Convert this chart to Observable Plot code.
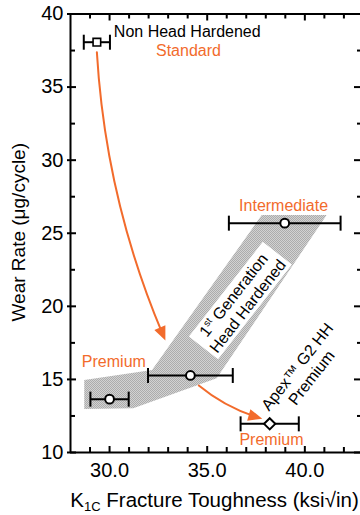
<!DOCTYPE html>
<html>
<head>
<meta charset="utf-8">
<script src="https://cdn.jsdelivr.net/npm/d3@7"></script>
<script src="https://cdn.jsdelivr.net/npm/@observablehq/plot@0.6"></script>
<style>html,body{margin:0;padding:0;background:#fff;overflow:hidden}</style>
</head>
<body>
<div id="chart"></div>
<script>
// ---------- data ----------
const groups = ["Non Head Hardened", "Premium", "1st Generation HH", "Intermediate", "Apex G2 HH Premium"];
const toughness = [29.35, 30.0, 34.14, 38.97, 38.2];
const toughnessErr = [0.67, 0.98, 2.17, 2.86, 1.49];
const wearRate = [38.07, 13.65, 15.27, 25.69, 11.96];
const markerType = ["square", "circle", "circle", "circle", "diamond"];

// shaded "1st Generation Head Hardened" band (upper and lower edges)
const bandUpperX = [28.73, 32.2, 37.82, 41.14];
const bandUpperY = [14.93, 15.61, 26.21, 26.21];
const bandLowerX = [28.73, 31.24, 35.51, 41.14];
const bandLowerY = [12.94, 12.99, 15.04, 26.21];

// ticks
const majorX = [30, 35, 40];
const minorX = [29, 31, 32, 33, 34, 36, 37, 38, 39, 41, 42];
const majorY = [10, 15, 20, 25, 30, 35, 40];
const minorY = [12.5, 17.5, 22.5, 27.5, 32.5, 37.5];

// annotations
const blackLabels = [{text: "Non Head Hardened", x: 30.22, y: 38.76}];
const orangeLabels = [
  {text: "Standard", x: 34.04, y: 37.51},
  {text: "Intermediate", x: 38.91, y: 26.9},
  {text: "Premium", x: 30.22, y: 16.19},
  {text: "Premium", x: 38.29, y: 10.83}
];
const rotatedLabels = [
  {text: "1st Generation\nHead Hardened", x: 36.7, y: 20.4, box: true},
  {text: "Apex™ G2 HH\nPremium", x: 39.96, y: 15.51, box: false}
];
const arrows = [
  {x1: 29.35, y1: 37.39, x2: 32.86, y2: 17.66, bend: -10},
  {x1: 34.57, y1: 14.58, x2: 37.82, y2: 12.31, bend: -12}
];

// ---------- layout ----------
const orange = "#f26b2c";
const W = 360, H = 515, mL = 70, mR = 0, mT = 13.5, mB = 63;
const xDomain = [28, 42.85], yDomain = [10, 40];
const plotW = W - mL - mR, plotH = H - mT - mB;
const xs = d3.scaleLinear(xDomain, [mL, W - mR]);
const ys = d3.scaleLinear(yDomain, [H - mB, mT]);
const textAngle = -52;

const points = groups.map((g, i) => ({g, x: toughness[i], lo: toughness[i] - toughnessErr[i], hi: toughness[i] + toughnessErr[i], y: wearRate[i], m: markerType[i]}));
const band = bandUpperX.map((_, i) => ({ux: bandUpperX[i], uy: bandUpperY[i], lx: bandLowerX[i], ly: bandLowerY[i]}));

// ---------- symbols ----------
const sym = {
  circle: {draw(c) { c.moveTo(4.4, 0); c.arc(0, 0, 4.4, 0, 2 * Math.PI); c.closePath(); }},
  square: {draw(c) { c.rect(-3.8, -3.8, 7.6, 7.6); }},
  diamond: {draw(c) { c.moveTo(0, -5.6); c.lineTo(5.6, 0); c.lineTo(0, 5.6); c.lineTo(-5.6, 0); c.closePath(); }},
  cap: {draw(c) { c.moveTo(0, -7.5); c.lineTo(0, 7.5); }}
};
function rotPts(pts, deg) {
  const a = deg * Math.PI / 180, co = Math.cos(a), si = Math.sin(a);
  return pts.map(([x, y]) => [x * co - y * si, x * si + y * co]);
}
function polySymbol(pts) {
  return {draw(c) { c.moveTo(...pts[0]); for (const p of pts.slice(1)) c.lineTo(...p); c.closePath(); }};
}
function headSymbol(deg) { return polySymbol(rotPts([[0, 0], [-14, -6], [-14, 6]], deg)); }
function boxSymbol(w, h, deg) { return polySymbol(rotPts([[-w/2, -h/2], [w/2, -h/2], [w/2, h/2], [-w/2, h/2]], deg)); }

const arrowMarks = arrows.flatMap(a => {
  const px1 = xs(a.x1), py1 = ys(a.y1), px2 = xs(a.x2), py2 = ys(a.y2);
  const endAngle = Math.atan2(py2 - py1, px2 - px1) * 180 / Math.PI + a.bend;
  return [
    Plot.arrow([a], {x1: "x1", y1: "y1", x2: "x2", y2: "y2", bend: a.bend, headLength: 0, insetEnd: 8, stroke: orange, strokeWidth: 2}),
    Plot.dot([a], {x: "x2", y: "y2", symbol: headSymbol(endAngle), fill: orange, stroke: "none"})
  ];
});

const chart = Plot.plot({
  width: W, height: H,
  marginLeft: mL, marginRight: mR, marginTop: mT, marginBottom: mB,
  x: {domain: xDomain, axis: null},
  y: {domain: yDomain, axis: null},
  style: {fontFamily: "'Liberation Sans', Arial, sans-serif", fontSize: "16px", background: "white", color: "black"},
  marks: [
    Plot.area(band, {x1: "lx", y1: "ly", x2: "ux", y2: "uy", fill: "url(#hatch)", stroke: "none"}),
    Plot.dot(rotatedLabels.filter(d => d.box), {x: "x", y: "y", symbol: boxSymbol(120, 37, textAngle), fill: "white", stroke: "none"}),
    ...arrowMarks,
    Plot.ruleY(points, {y: "y", x1: "lo", x2: "hi", stroke: "black", strokeWidth: 2}),
    Plot.dot(points, {x: "lo", y: "y", symbol: sym.cap, stroke: "black", strokeWidth: 2, fill: "none"}),
    Plot.dot(points, {x: "hi", y: "y", symbol: sym.cap, stroke: "black", strokeWidth: 2, fill: "none"}),
    Plot.dot(points.filter(d => d.m === "circle"), {x: "x", y: "y", symbol: sym.circle, stroke: "black", strokeWidth: 2, fill: "white"}),
    Plot.dot(points.filter(d => d.m === "square"), {x: "x", y: "y", symbol: sym.square, stroke: "black", strokeWidth: 1.6, fill: "white"}),
    Plot.dot(points.filter(d => d.m === "diamond"), {x: "x", y: "y", symbol: sym.diamond, stroke: "black", strokeWidth: 2, fill: "white"}),
    Plot.text(blackLabels, {x: "x", y: "y", text: "text", textAnchor: "start", fontSize: 16, fill: "black"}),
    Plot.text(orangeLabels, {x: "x", y: "y", text: "text", textAnchor: "middle", fontSize: 16, fill: orange}),
    Plot.text(rotatedLabels, {x: "x", y: "y", text: "text", rotate: textAngle, fontSize: 16, lineHeight: 1.12, fill: "black"}),
    // frame (left, bottom, top)
    Plot.ruleX([xDomain[0]], {x: d => d, stroke: "black", strokeWidth: 2}),
    Plot.ruleY([yDomain[0]], {y: d => d, stroke: "black", strokeWidth: 2}),
    Plot.ruleY([yDomain[1]], {y: d => d, stroke: "black", strokeWidth: 2}),
    // inward ticks
    Plot.ruleX(majorX, {x: d => d, insetTop: plotH - 6, stroke: "black", strokeWidth: 2}),
    Plot.ruleX(minorX, {x: d => d, insetTop: plotH - 5, stroke: "black", strokeWidth: 2}),
    Plot.ruleX(majorX, {x: d => d, insetBottom: plotH - 7, stroke: "black", strokeWidth: 2}),
    Plot.ruleX(minorX, {x: d => d, insetBottom: plotH - 5, stroke: "black", strokeWidth: 2}),
    Plot.ruleY(majorY, {y: d => d, insetRight: plotW - 6, stroke: "black", strokeWidth: 2}),
    Plot.ruleY(minorY, {y: d => d, insetRight: plotW - 5, stroke: "black", strokeWidth: 2}),
    Plot.ruleY(majorY, {y: d => d, insetLeft: plotW - 6, stroke: "black", strokeWidth: 2}),
    Plot.ruleY(minorY, {y: d => d, insetLeft: plotW - 3, stroke: "black", strokeWidth: 2}),
    // axes labels
    Plot.axisY({ticks: majorY, tickSize: 3, tickPadding: 4, strokeWidth: 2, fontSize: 20, tickFormat: d => String(d), label: null}),
    Plot.axisX({ticks: majorX, tickSize: 0, tickPadding: 10, fontSize: 20, tickFormat: d3.format(".1f"), label: null}),
    Plot.text(["Wear Rate (μg/cycle)"], {text: d => d, frameAnchor: "left", textAnchor: "middle", lineAnchor: "middle", rotate: -90, dx: -52, dy: -1, fontSize: 19, fill: "black"}),
    Plot.text(["K1C Fracture Toughness (ksi√in)"], {text: d => d, frameAnchor: "bottom", textAnchor: "middle", lineAnchor: "middle", dy: 48, dx: -1, fontSize: 20.5, fill: "black"})
  ]
});

// ---------- post-processing: pattern + sub/superscripts ----------
const ns = "http://www.w3.org/2000/svg";
function el(name, attrs, parent) {
  const e = document.createElementNS(ns, name);
  for (const k in attrs) e.setAttribute(k, attrs[k]);
  if (parent) parent.appendChild(e);
  return e;
}
const defs = el("defs", {});
const pat = el("pattern", {id: "hatch", width: 2, height: 2, patternUnits: "userSpaceOnUse"}, defs);
el("rect", {width: 2, height: 2, fill: "#d2d2d2"}, pat);
el("rect", {x: 0, y: 0, width: 1, height: 1, fill: "#acacac"}, pat);
el("rect", {x: 1, y: 1, width: 1, height: 1, fill: "#acacac"}, pat);
chart.insertBefore(defs, chart.firstChild);

function setRich(svg, plain, parts) {
  for (const t of svg.querySelectorAll("text, tspan")) {
    if (t.children.length === 0 && t.textContent === plain) {
      t.textContent = "";
      for (const p of parts) {
        if (typeof p === "string") t.appendChild(document.createTextNode(p));
        else {
          const s = el("tspan", {}, t);
          if (p.dy != null) s.setAttribute("dy", p.dy);
          if (p.size) s.setAttribute("font-size", p.size);
          s.textContent = p.text;
        }
      }
    }
  }
}
setRich(chart, "K1C Fracture Toughness (ksi√in)", ["K", {text: "1C", dy: 4, size: 13}, {text: " Fracture Toughness (ksi√in)", dy: -4}]);
setRich(chart, "1st Generation", ["1", {text: "st", dy: -6, size: 10}, {text: " Generation", dy: 6}]);

document.getElementById("chart").appendChild(chart);
</script>
</body>
</html>
